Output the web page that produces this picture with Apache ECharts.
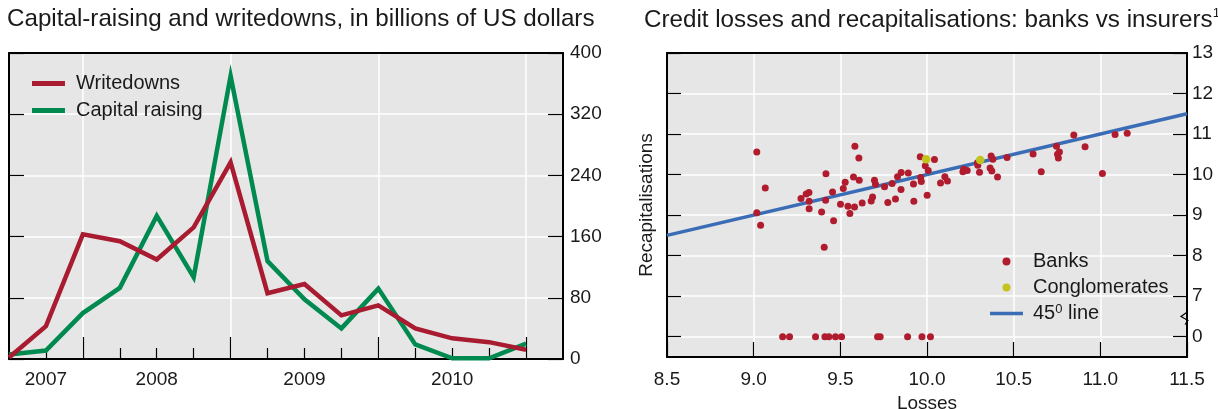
<!DOCTYPE html>
<html>
<head>
<meta charset="utf-8">
<script src="https://cdn.jsdelivr.net/npm/echarts@6/dist/echarts.min.js"></script>
<style>
  html, body { margin: 0; padding: 0; background: #fff; }
  #chart { width: 1218px; height: 409px; }
</style>
</head>
<body>
<div id="chart"></div>
<script>
// ---- Left panel: quarterly capital-raising and writedowns (USD bn) ----
const quarters = [0, 1, 2, 3, 4, 5, 6, 7, 8, 9, 10, 11, 12, 13, 14];
const writedowns = [2, 43, 163, 154, 130, 172, 257, 86, 98, 57, 70, 40, 27, 22, 12];
const capitalRaising = [6, 11, 60, 93, 187, 107, 370, 128, 78, 40, 92, 19, 1, 1, 20];
const yearLabels = ['2007', '2008', '2009', '2010'];
const yearLabelQuarter = [1, 4, 8, 12];
const yearStartQuarter = [2, 6, 10, 14];
const leftYTicks = [0, 80, 160, 240, 320, 400];

// ---- Right panel: credit losses vs recapitalisations (log scale) ----
const bankLosses = [
  9.018, 9.067, 9.018, 9.040, 9.273, 9.303, 9.319, 9.320, 9.320, 9.392,
  9.407, 9.417, 9.415, 9.455, 9.461, 9.501, 9.517, 9.528, 9.544, 9.555,
  9.576, 9.582, 9.584, 9.607, 9.609, 9.626, 9.678, 9.686, 9.697, 9.703,
  9.755, 9.774, 9.799, 9.818, 9.830, 9.850, 9.851, 9.892, 9.922, 9.924,
  9.961, 9.963, 9.967, 9.990, 10.001, 10.007, 10.043, 10.078, 10.103, 10.118,
  10.207, 10.211, 10.232, 10.291, 10.293, 10.303, 10.364, 10.370, 10.374, 10.380,
  10.407, 10.462, 10.612, 10.659, 10.747, 10.753, 10.758, 10.764, 10.847, 10.912,
  11.012, 11.085, 11.155,
  9.167, 9.207, 9.357, 9.411, 9.434, 9.472, 9.507, 9.715, 9.730, 9.888,
  9.971, 10.020
];
const bankRecaps = [
  10.56, 9.67, 9.06, 8.75, 9.41, 9.52, 9.56, 9.34, 9.16, 9.08,
  8.21, 10.02, 9.37, 9.57, 8.86, 9.27, 9.66, 9.81, 9.22, 9.04,
  9.94, 9.20, 10.70, 10.41, 9.86, 9.30, 9.35, 9.45, 9.86, 9.76,
  9.70, 9.31, 9.78, 9.40, 9.95, 9.63, 10.05, 10.04, 9.77, 9.34,
  10.44, 9.93, 9.83, 10.22, 9.49, 10.10, 10.37, 9.79, 9.95, 9.84,
  10.07, 10.13, 10.10, 10.29, 10.23, 10.06, 10.16, 10.46, 10.09, 10.38,
  9.94, 10.42, 10.51, 10.07, 10.70, 10.50, 10.41, 10.56, 10.98, 10.69,
  10.03, 10.99, 11.02,
  0, 0, 0, 0, 0, 0, 0, 0, 0, 0,
  0, 0
];
const conglomerateLosses = [9.995, 10.307];
const conglomerateRecaps = [10.38, 10.36];
const diagonalEnds = [8.5, 11.5];
const rightYTicks = [0, 7, 8, 9, 10, 11, 12, 13];
const rightXTicks = [8.5, 9.0, 9.5, 10.0, 10.5, 11.0, 11.5];

// The recapitalisation axis is broken: zero sits one unit below 7.
const ZERO_SLOT = 6;
const toAxis = v => (v === 0 ? ZERO_SLOT : v);
const fromAxis = v => (v === ZERO_SLOT ? 0 : v);

const FONT = "'Liberation Sans', Arial, Helvetica, sans-serif";
const TXT = '#1a1a1a';
const BG = '#e6e6e6';
const RED = '#a91b30';
const GREEN = '#008a50';
const DOT_RED = '#b01c2e';
const DOT_YELLOW = '#c3c31d';
const BLUE = '#3a6db6';

// Legend bar icons: a thin horizontal bar inside a taller invisible box.
const barIcon = (thick, box) =>
  'path://M0,0h33v0.01h-33z M0,' + ((box - thick) / 2) + 'h33v' + thick + 'h-33z M0,' + box + 'h33v0.01h-33z';

const whiteSplit = () => ({ show: true, lineStyle: { color: '#ffffff', width: 1.5 } });
const frameLine = () => ({ show: true, onZero: false, lineStyle: { color: '#000', width: 2 } });
const tickStyle = () => ({ color: '#000', width: 1.2 });
const labelFont = () => ({ fontFamily: FONT, fontSize: 19, color: TXT });

const option = {
  animation: false,
  textStyle: { fontFamily: FONT },
  title: [
    {
      text: 'Capital-raising and writedowns, in billions of US dollars',
      left: 7, top: 7, padding: 0,
      textStyle: { fontFamily: FONT, fontSize: 24.2, fontWeight: 'normal', color: TXT }
    },
    {
      text: 'Credit losses and recapitalisations: banks vs insurers{sup|1}',
      left: 644, top: 7, padding: 0,
      textStyle: {
        fontFamily: FONT, fontSize: 24.2, fontWeight: 'normal', color: TXT,
        rich: { sup: { fontFamily: FONT, fontSize: 13, color: TXT, verticalAlign: 'top', padding: [0, 0, 13, 0] } }
      }
    }
  ],
  legend: [
    {
      left: 27, top: 68,
      orient: 'vertical',
      itemWidth: 33, itemHeight: 10, itemGap: 6,
      data: [
        { name: 'Writedowns', icon: barIcon(5, 10) },
        { name: 'Capital raising', icon: barIcon(5, 10) }
      ],
      textStyle: { fontFamily: FONT, fontSize: 20, color: TXT, lineHeight: 21, padding: [0, 0, 0, 6] }
    },
    {
      left: 985, top: 246,
      orient: 'vertical',
      itemWidth: 33, itemHeight: 8, itemGap: 5,
      data: [
        { name: 'Banks', icon: 'circle' },
        { name: 'Conglomerates', icon: 'circle' },
        { name: 'Diagonal', icon: barIcon(3.5, 8) }
      ],
      formatter: name => (name === 'Diagonal' ? '45{sup|0} line' : name),
      textStyle: {
        fontFamily: FONT, fontSize: 20, color: TXT, lineHeight: 21, padding: [0, 0, 0, 5],
        rich: { sup: { fontFamily: FONT, fontSize: 13, color: TXT, verticalAlign: 'top', padding: [0, 0, 9, 0] } }
      }
    }
  ],
  grid: [
    { left: 9, top: 53, right: 655, bottom: 50, outerBoundsMode: 'none', containLabel: false,
      show: true, backgroundColor: BG, borderWidth: 0 },
    { left: 667, top: 53, right: 31, bottom: 52, outerBoundsMode: 'none', containLabel: false,
      show: true, backgroundColor: BG, borderWidth: 0 }
  ],
  xAxis: [
    {
      gridIndex: 0, type: 'value', position: 'bottom', min: 0, max: 15,
      axisLine: frameLine(),
      axisTick: {
        show: true, inside: true, length: 11, lineStyle: tickStyle(),
        customValues: quarters.filter(q => q > 0 && !yearStartQuarter.includes(q))
      },
      axisLabel: Object.assign({
        show: true, margin: 11,
        customValues: yearLabelQuarter,
        formatter: v => yearLabels[yearLabelQuarter.indexOf(v)] || ''
      }, labelFont()),
      splitLine: { show: false }
    },
    {
      gridIndex: 0, type: 'value', position: 'bottom', offset: 0, min: 0, max: 15,
      axisLine: { show: false, onZero: false },
      axisTick: {
        show: true, inside: true, length: 22, lineStyle: tickStyle(),
        customValues: yearStartQuarter
      },
      axisLabel: { show: false },
      splitLine: whiteSplit()
    },
    {
      gridIndex: 0, type: 'value', position: 'top', min: 0, max: 15,
      axisLine: frameLine(), axisTick: { show: false }, axisLabel: { show: false }, splitLine: { show: false }
    },
    {
      gridIndex: 1, type: 'value', position: 'bottom', min: 8.5, max: 11.5, interval: 0.5,
      name: 'Losses', nameLocation: 'middle', nameGap: 33,
      nameTextStyle: labelFont(),
      axisLine: frameLine(),
      axisTick: { show: true, inside: true, length: 15, lineStyle: tickStyle() },
      axisLabel: Object.assign({
        show: true, margin: 13,
        customValues: rightXTicks,
        formatter: v => v.toFixed(1)
      }, labelFont()),
      splitLine: whiteSplit()
    },
    {
      gridIndex: 1, type: 'value', position: 'top', min: 8.5, max: 11.5,
      axisLine: frameLine(), axisTick: { show: false }, axisLabel: { show: false }, splitLine: { show: false }
    }
  ],
  yAxis: [
    {
      gridIndex: 0, type: 'value', position: 'right', min: 0, max: 400, interval: 80,
      axisLine: frameLine(),
      axisTick: { show: true, inside: true, length: 15, lineStyle: tickStyle() },
      axisLabel: Object.assign({ show: true, margin: 7, customValues: leftYTicks }, labelFont()),
      splitLine: whiteSplit()
    },
    {
      gridIndex: 0, type: 'value', position: 'left', min: 0, max: 400, interval: 80,
      axisLine: frameLine(),
      axisTick: { show: true, inside: true, length: 15, lineStyle: tickStyle(), customValues: leftYTicks },
      axisLabel: { show: false },
      splitLine: { show: false }
    },
    {
      gridIndex: 1, type: 'value', position: 'right', min: 5.5, max: 13,
      axisLine: frameLine(),
      axisTick: {
        show: true, inside: true, length: 14, lineStyle: tickStyle(),
        customValues: rightYTicks.map(toAxis)
      },
      axisLabel: Object.assign({
        show: true, margin: 5,
        customValues: rightYTicks.map(toAxis),
        formatter: v => String(fromAxis(v))
      }, labelFont()),
      splitLine: whiteSplit()
    },
    {
      gridIndex: 1, type: 'value', position: 'left', min: 5.5, max: 13,
      name: 'Recapitalisations', nameLocation: 'middle', nameGap: 11, nameRotate: 90,
      nameTextStyle: labelFont(),
      axisLine: frameLine(),
      axisTick: {
        show: true, inside: true, length: 14, lineStyle: tickStyle(),
        customValues: rightYTicks.map(toAxis)
      },
      axisLabel: { show: false },
      splitLine: { show: false }
    }
  ],
  series: [
    {
      name: 'Capital raising', type: 'line', xAxisIndex: 0, yAxisIndex: 0,
      showSymbol: false, symbol: 'none', z: 3,
      lineStyle: { color: GREEN, width: 4.5, join: 'miter' },
      itemStyle: { color: GREEN },
      data: quarters.map((q, i) => [q, capitalRaising[i]])
    },
    {
      name: 'Writedowns', type: 'line', xAxisIndex: 0, yAxisIndex: 0,
      showSymbol: false, symbol: 'none', z: 4,
      lineStyle: { color: RED, width: 4.5, join: 'miter' },
      itemStyle: { color: RED },
      data: quarters.map((q, i) => [q, writedowns[i]])
    },
    {
      name: 'Diagonal', type: 'line', xAxisIndex: 3, yAxisIndex: 2,
      showSymbol: false, symbol: 'none', z: 2,
      lineStyle: { color: BLUE, width: 3.5 },
      itemStyle: { color: BLUE },
      data: diagonalEnds.map(v => [v, v])
    },
    {
      name: 'Banks', type: 'scatter', xAxisIndex: 3, yAxisIndex: 2,
      symbol: 'circle', symbolSize: 7, z: 3,
      itemStyle: { color: DOT_RED, opacity: 1 },
      data: bankLosses.map((x, i) => [x, toAxis(bankRecaps[i])])
    },
    {
      name: 'Conglomerates', type: 'scatter', xAxisIndex: 3, yAxisIndex: 2,
      symbol: 'circle', symbolSize: 8.5, z: 4,
      itemStyle: { color: DOT_YELLOW, opacity: 1 },
      data: conglomerateLosses.map((x, i) => [x, conglomerateRecaps[i]])
    }
  ]
};

const chart = echarts.init(document.getElementById('chart'), null, { renderer: 'canvas' });
chart.setOption(option);

// Axis-break mark on the right edge, between the zero row and 7.
const brk = chart.convertToPixel({ xAxisIndex: 3, yAxisIndex: 2 }, [11.5, 6.45]);
chart.setOption({
  graphic: [{
    type: 'polyline',
    shape: { points: [[brk[0] + 1, brk[1] - 7], [brk[0] - 6, brk[1] - 2], [brk[0] + 1, brk[1] + 2], [brk[0] - 2, brk[1] + 6]] },
    style: { stroke: '#000', lineWidth: 1.2, fill: null },
    z: 100
  }]
});
</script>
</body>
</html>
